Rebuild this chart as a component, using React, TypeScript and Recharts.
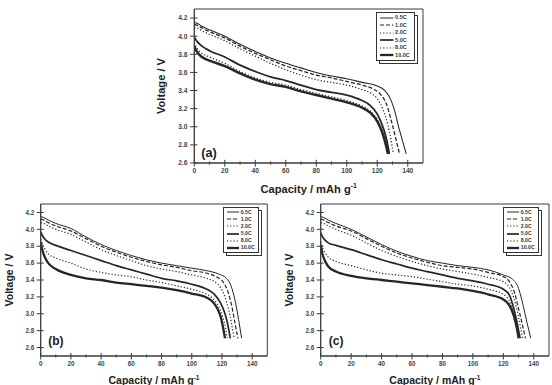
import React from 'react';
import { LineChart, Line, XAxis, YAxis, ReferenceArea, ReferenceDot, Legend } from 'recharts';

const RATES = ['0.5C', '1.0C', '2.0C', '5.0C', '8.0C', '10.0C'];
const X_TICKS = [0, 10, 20, 30, 40, 50, 60, 70, 80, 90, 100, 110, 120, 130, 140];
const Y_TICKS = [2.6, 2.8, 3.0, 3.2, 3.4, 3.6, 3.8, 4.0, 4.2];

// ---- panel (a) ----
const a05Cap = [0, 2, 5, 10, 20, 30, 40, 50, 60, 70, 80, 90, 100, 110, 120, 125, 128, 131, 134, 136.5, 139];
const a05V = [4.15, 4.14, 4.11, 4.07, 4.0, 3.91, 3.83, 3.76, 3.7, 3.65, 3.6, 3.56, 3.53, 3.49, 3.45, 3.4, 3.33, 3.2, 3.0, 2.85, 2.7];
const a10Cap = [0, 2, 5, 10, 20, 30, 40, 50, 60, 70, 80, 90, 100, 110, 117, 122, 126, 129, 132, 134.6];
const a10V = [4.13, 4.12, 4.09, 4.05, 3.98, 3.89, 3.81, 3.74, 3.67, 3.62, 3.57, 3.54, 3.5, 3.46, 3.42, 3.36, 3.25, 3.08, 2.88, 2.7];
const a20Cap = [0, 2, 5, 10, 20, 30, 40, 50, 60, 70, 80, 90, 100, 110, 116, 120, 124, 127, 129, 130.5];
const a20V = [4.1, 4.09, 4.06, 4.02, 3.95, 3.86, 3.78, 3.7, 3.63, 3.57, 3.52, 3.49, 3.46, 3.41, 3.37, 3.31, 3.18, 3.02, 2.86, 2.7];
const a50Cap = [0, 1, 3, 5, 10, 20, 30, 40, 50, 60, 70, 80, 90, 100, 110, 115, 120, 123, 125.5, 128];
const a50V = [3.99, 3.96, 3.92, 3.89, 3.84, 3.77, 3.68, 3.61, 3.55, 3.51, 3.46, 3.41, 3.38, 3.35, 3.29, 3.24, 3.14, 3.03, 2.9, 2.7];
const a80Cap = [0, 1, 3, 5, 10, 20, 30, 40, 50, 60, 70, 80, 90, 100, 110, 115, 120, 123, 125.5, 127.5];
const a80V = [3.93, 3.89, 3.84, 3.81, 3.77, 3.7, 3.61, 3.54, 3.49, 3.46, 3.41, 3.37, 3.33, 3.29, 3.23, 3.18, 3.08, 2.97, 2.84, 2.7];
const a100Cap = [0, 1, 3, 5, 10, 20, 30, 40, 50, 60, 70, 80, 90, 100, 110, 115, 120, 123, 125, 127];
const a100V = [3.89, 3.85, 3.8, 3.77, 3.73, 3.67, 3.59, 3.52, 3.47, 3.44, 3.39, 3.35, 3.31, 3.27, 3.21, 3.16, 3.06, 2.95, 2.84, 2.7];

// ---- panel (b) ----
const b05Cap = [0, 2, 5, 10, 20, 30, 40, 50, 60, 70, 80, 90, 100, 110, 118, 123, 126, 128.5, 131, 133];
const b05V = [4.15, 4.14, 4.11, 4.07, 4.01, 3.91, 3.82, 3.75, 3.69, 3.64, 3.6, 3.57, 3.54, 3.51, 3.47, 3.42, 3.33, 3.17, 2.93, 2.71];
const b10Cap = [0, 2, 5, 10, 20, 30, 40, 50, 60, 70, 80, 90, 100, 110, 116, 121, 124, 126.5, 128.5, 130.5];
const b10V = [4.12, 4.11, 4.08, 4.04, 3.98, 3.89, 3.8, 3.73, 3.67, 3.62, 3.58, 3.55, 3.51, 3.48, 3.44, 3.37, 3.26, 3.09, 2.9, 2.71];
const b20Cap = [0, 2, 5, 10, 20, 30, 40, 50, 60, 70, 80, 90, 100, 110, 115, 119, 122, 124.5, 126.5, 128];
const b20V = [4.08, 4.07, 4.04, 4.0, 3.94, 3.85, 3.76, 3.69, 3.63, 3.57, 3.53, 3.5, 3.46, 3.42, 3.38, 3.31, 3.2, 3.04, 2.87, 2.71];
const b50Cap = [0, 1, 3, 5, 10, 20, 30, 40, 50, 60, 70, 80, 90, 100, 110, 115, 119, 122, 124, 125.5];
const b50V = [3.97, 3.93, 3.88, 3.85, 3.81, 3.75, 3.69, 3.63, 3.57, 3.52, 3.47, 3.42, 3.39, 3.35, 3.29, 3.23, 3.13, 3.0, 2.86, 2.71];
const b80Cap = [0, 1, 3, 5, 10, 20, 30, 40, 50, 60, 70, 80, 90, 100, 110, 114, 118, 120.5, 122.5, 123.5];
const b80V = [3.88, 3.83, 3.76, 3.71, 3.66, 3.6, 3.53, 3.49, 3.46, 3.44, 3.4, 3.37, 3.33, 3.29, 3.23, 3.18, 3.08, 2.96, 2.82, 2.71];
const b100Cap = [0, 1, 3, 5, 10, 20, 30, 40, 50, 60, 70, 80, 90, 100, 110, 114, 117, 119.5, 121, 122];
const b100V = [3.85, 3.76, 3.66, 3.6, 3.53, 3.46, 3.42, 3.4, 3.37, 3.35, 3.33, 3.31, 3.28, 3.24, 3.19, 3.14, 3.06, 2.94, 2.81, 2.71];

// ---- panel (c) ----
const c05Cap = [0, 2, 5, 10, 20, 30, 40, 50, 60, 70, 80, 90, 100, 110, 120, 126, 130, 133, 135.5, 138];
const c05V = [4.15, 4.14, 4.11, 4.07, 4.0, 3.91, 3.82, 3.74, 3.68, 3.63, 3.6, 3.57, 3.55, 3.52, 3.46, 3.41, 3.3, 3.1, 2.9, 2.71];
const c10Cap = [0, 2, 5, 10, 20, 30, 40, 50, 60, 70, 80, 90, 100, 110, 120, 124, 127.5, 130, 132.5, 134.5];
const c10V = [4.12, 4.11, 4.08, 4.04, 3.98, 3.89, 3.8, 3.72, 3.66, 3.61, 3.57, 3.55, 3.53, 3.49, 3.44, 3.38, 3.24, 3.06, 2.87, 2.71];
const c20Cap = [0, 2, 5, 10, 20, 30, 40, 50, 60, 70, 80, 90, 100, 110, 120, 124, 127, 129.5, 131.5, 132.5];
const c20V = [4.08, 4.07, 4.04, 4.0, 3.93, 3.84, 3.75, 3.68, 3.62, 3.57, 3.53, 3.5, 3.47, 3.43, 3.38, 3.31, 3.18, 3.0, 2.82, 2.71];
const c50Cap = [0, 1, 3, 5, 10, 20, 30, 40, 50, 60, 70, 80, 90, 100, 110, 120, 124, 127, 129.5, 131];
const c50V = [3.96, 3.92, 3.87, 3.84, 3.81, 3.76, 3.7, 3.64, 3.59, 3.54, 3.5, 3.46, 3.42, 3.39, 3.35, 3.29, 3.22, 3.05, 2.85, 2.71];
const c80Cap = [0, 1, 3, 5, 10, 20, 30, 40, 50, 60, 70, 80, 90, 100, 110, 120, 124, 127, 129, 130.5];
const c80V = [3.85, 3.79, 3.72, 3.67, 3.62, 3.57, 3.52, 3.48, 3.46, 3.44, 3.41, 3.38, 3.35, 3.33, 3.29, 3.23, 3.15, 3.0, 2.84, 2.71];
const c100Cap = [0, 1, 3, 5, 10, 20, 30, 40, 50, 60, 70, 80, 90, 100, 110, 120, 124, 127, 129, 130];
const c100V = [3.82, 3.72, 3.62, 3.56, 3.5, 3.45, 3.42, 3.4, 3.38, 3.36, 3.34, 3.32, 3.3, 3.27, 3.23, 3.17, 3.1, 2.97, 2.82, 2.71];

const INK = '#262626';
const AXIS = '#3a3a3a';
const TICK_C = '#444';
const FONT = '"Liberation Sans", Arial, Helvetica, sans-serif';
const Y_AXIS_W = 30;
const X_AXIS_H = 25;

const LINE_STYLES: { w: number; dash?: string }[] = [
  { w: 1.0 },
  { w: 1.2, dash: '4 2' },
  { w: 1.2, dash: '1.2 2' },
  { w: 1.7 },
  { w: 1.2, dash: '1.2 2' },
  { w: 2.3 },
];

const toPoints = (cap: number[], v: number[]) => cap.map((x, i) => ({ x, v: v[i] }));

type PanelCfg = {
  tag: string;
  margin: { top: number; right: number; bottom: number; left: number };
  yDomain: [number, number];
  s: number;
  legendPos: { left: number; top: number };
  tagAt: [number, number];
  series: [number[], number[]][];
};

const PANELS: PanelCfg[] = [
  {
    tag: '(a)',
    margin: { top: 9, right: 129, bottom: 385 - 163 - X_AXIS_H, left: 194.3 - Y_AXIS_W },
    yDomain: [2.6, 4.3],
    s: 1.06,
    legendPos: { left: 376, top: 12 },
    tagAt: [9.6, 2.72],
    series: [[a05Cap, a05V], [a10Cap, a10V], [a20Cap, a20V], [a50Cap, a50V], [a80Cap, a80V], [a100Cap, a100V]],
  },
  {
    tag: '(b)',
    margin: { top: 204, right: 552 - 267.3, bottom: 385 - 356 - X_AXIS_H, left: 40.7 - Y_AXIS_W },
    yDomain: [2.5, 4.3],
    s: 1,
    legendPos: { left: 222.7, top: 206.7 },
    tagAt: [10.1, 2.68],
    series: [[b05Cap, b05V], [b10Cap, b10V], [b20Cap, b20V], [b50Cap, b50V], [b80Cap, b80V], [b100Cap, b100V]],
  },
  {
    tag: '(c)',
    margin: { top: 204, right: 552 - 549, bottom: 385 - 356 - X_AXIS_H, left: 320.7 - Y_AXIS_W },
    yDomain: [2.5, 4.3],
    s: 1,
    legendPos: { left: 502.7, top: 206.7 },
    tagAt: [10.1, 2.68],
    series: [[c05Cap, c05V], [c10Cap, c10V], [c20Cap, c20V], [c50Cap, c50V], [c80Cap, c80V], [c100Cap, c100V]],
  },
];

const XTick = (p: any) => {
  const { x, y, payload, s } = p;
  const v = payload.value;
  const major = v % 20 === 0;
  return (
    <g>
      <line x1={x} x2={x} y1={y - (major ? 3 : 1.5) * s} y2={y + (major ? 3.5 : 1.5) * s} stroke={AXIS} strokeWidth={1} />
      {major && (
        <text x={x} y={y + 9.6 * s} textAnchor="middle" fontSize={6.3 * s} fontWeight="bold" fill={TICK_C} fontFamily={FONT}>
          {v}
        </text>
      )}
    </g>
  );
};

const YTick = (p: any) => {
  const { x, y, payload, s } = p;
  return (
    <g>
      <line x1={x - 4 * s} x2={x + 3 * s} y1={y} y2={y} stroke={AXIS} strokeWidth={1} />
      <text x={x - 6.5 * s} y={y + 2.2 * s} textAnchor="end" fontSize={6.3 * s} fontWeight="bold" fill={TICK_C} fontFamily={FONT}>
        {Number(payload.value).toFixed(1)}
      </text>
    </g>
  );
};

const XTitle = (p: any, s: number) => {
  const vb = p.viewBox || {};
  const cx = vb.x + vb.width / 2;
  const cy = vb.y + 24.5 * s;
  return (
    <text x={cx} y={cy + 3.8 * s} textAnchor="middle" fontSize={10.5 * s} fontWeight="bold" fill="#222" fontFamily={FONT}>
      Capacity / mAh g
      <tspan fontSize={6.5 * s} dy={-4.5 * s}>-1</tspan>
    </text>
  );
};

const YTitle = (p: any, s: number) => {
  const vb = p.viewBox || {};
  const cx = vb.x + vb.width - 31.5 * s;
  const cy = vb.y + vb.height / 2;
  return (
    <text
      x={cx}
      y={cy}
      transform={`rotate(-90 ${cx} ${cy})`}
      textAnchor="middle"
      dominantBaseline="central"
      fontSize={10.5 * s}
      fontWeight="bold"
      fill="#222"
      fontFamily={FONT}
    >
      Voltage / V
    </text>
  );
};

const LegendBox = ({ s }: { s: number }) => (
  <div
    style={{
      width: 36.5 * s,
      height: 46 * s,
      boxSizing: 'border-box',
      border: '1px solid #333',
      background: '#fff',
      boxShadow: '3px 3px 0 -1px #fff, 3px 3px 0 0 #333',
      paddingTop: 1 * s,
      paddingLeft: 3 * s,
      fontFamily: FONT,
      fontWeight: 'bold',
      fontSize: 5.2 * s,
      color: '#333',
      lineHeight: 1,
      overflow: 'hidden',
    }}
  >
    {RATES.map((r, i) => (
      <div key={r} style={{ display: 'flex', alignItems: 'center', height: 7.1 * s }}>
        <svg width={12.6 * s} height={4} style={{ display: 'block' }}>
          <line
            x1={0}
            y1={2}
            x2={12.6 * s}
            y2={2}
            stroke={INK}
            strokeWidth={LINE_STYLES[i].w}
            strokeDasharray={LINE_STYLES[i].dash}
          />
        </svg>
        <span style={{ marginLeft: 1.5 * s }}>{r}</span>
      </div>
    ))}
  </div>
);

const Panel = ({ cfg }: { cfg: PanelCfg }) => {
  const s = cfg.s;
  return (
    <div style={{ position: 'absolute', left: 0, top: 0 }}>
      <LineChart width={552} height={385} margin={cfg.margin}>
        <XAxis
          type="number"
          dataKey="x"
          domain={[0, 150]}
          allowDataOverflow
          ticks={X_TICKS}
          interval={0}
          tickSize={0}
          tickMargin={0}
          height={X_AXIS_H}
          axisLine={{ stroke: AXIS, strokeWidth: 1 }}
          tickLine={false}
          tick={(p: any) => <XTick {...p} s={s} />}
          label={(p: any) => XTitle(p, s)}
        />
        <YAxis
          type="number"
          domain={cfg.yDomain}
          allowDataOverflow
          ticks={Y_TICKS}
          interval={0}
          tickSize={0}
          tickMargin={0}
          width={Y_AXIS_W}
          axisLine={{ stroke: AXIS, strokeWidth: 1 }}
          tickLine={false}
          tick={(p: any) => <YTick {...p} s={s} />}
          label={(p: any) => YTitle(p, s)}
        />
        <ReferenceArea
          x1={0}
          x2={150}
          y1={cfg.yDomain[0]}
          y2={cfg.yDomain[1]}
          fill="none"
          fillOpacity={0}
          stroke={AXIS}
          strokeWidth={1}
          ifOverflow="visible"
        />
        {cfg.series.map(([cap, v], i) => (
          <Line
            key={RATES[i]}
            data={toPoints(cap, v)}
            dataKey="v"
            name={RATES[i]}
            type="monotone"
            stroke={INK}
            strokeWidth={LINE_STYLES[i].w * s}
            strokeDasharray={LINE_STYLES[i].dash}
            dot={false}
            activeDot={false}
            isAnimationActive={false}
          />
        ))}
        <ReferenceDot
          x={cfg.tagAt[0]}
          y={cfg.tagAt[1]}
          r={0}
          fill="none"
          stroke="none"
          ifOverflow="visible"
          label={(p: any) => {
            const vb = p.viewBox || {};
            const cx = vb.x + (vb.width || 0) / 2;
            const cy = vb.y + (vb.height || 0) / 2;
            return (
              <text x={cx} y={cy} textAnchor="middle" dominantBaseline="central" fontSize={12 * s} fontWeight="bold" fill="#222" fontFamily={FONT}>
                {cfg.tag}
              </text>
            );
          }}
        />
        <Legend
          layout="vertical"
          align="center"
          verticalAlign="middle"
          wrapperStyle={{ left: cfg.legendPos.left, top: cfg.legendPos.top, width: 'auto', height: 'auto', margin: 0 }}
          content={() => <LegendBox s={s} />}
        />
      </LineChart>
    </div>
  );
};

export default function App() {
  return (
    <div style={{ position: 'absolute', left: 0, top: 0, width: 552, height: 385, background: '#fff', overflow: 'hidden' }}>
      {PANELS.map((cfg) => (
        <Panel key={cfg.tag} cfg={cfg} />
      ))}
    </div>
  );
}
